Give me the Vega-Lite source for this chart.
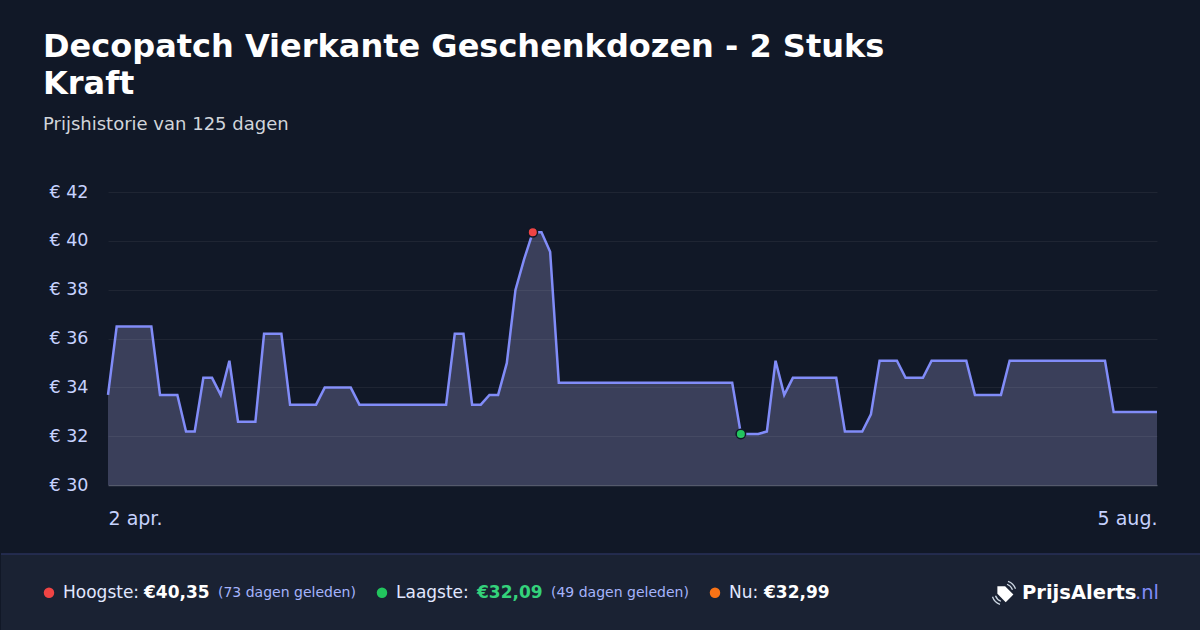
{
  "$schema": "https://vega.github.io/schema/vega-lite/v6.json",
  "background": "#111827",
  "padding": {"top": 31, "left": 0, "right": 0, "bottom": 0},
  "config": {
    "font": "DejaVu Sans",
    "view": {"stroke": null}
  },
  "title": {
    "text": ["Decopatch Vierkante Geschenkdozen - 2 Stuks", "Kraft"],
    "subtitle": "Prijshistorie van 125 dagen",
    "anchor": "start",
    "frame": "group",
    "dx": 42,
    "fontSize": 32,
    "fontWeight": "bold",
    "lineHeight": 37,
    "color": "#ffffff",
    "subtitleFontSize": 18,
    "subtitleColor": "#d1d5db",
    "subtitlePadding": 15,
    "offset": 48
  },
  "spacing": 362,
  "bounds": "flush",
  "datasets": {
    "prijzen": [
      {"i": 0, "prijs": 33.69}, {"i": 1, "prijs": 36.49}, {"i": 2, "prijs": 36.49}, {"i": 3, "prijs": 36.49},
      {"i": 4, "prijs": 36.49}, {"i": 5, "prijs": 36.49}, {"i": 6, "prijs": 33.69}, {"i": 7, "prijs": 33.69},
      {"i": 8, "prijs": 33.69}, {"i": 9, "prijs": 32.19}, {"i": 10, "prijs": 32.19}, {"i": 11, "prijs": 34.39},
      {"i": 12, "prijs": 34.39}, {"i": 13, "prijs": 33.69}, {"i": 14, "prijs": 35.09}, {"i": 15, "prijs": 32.59},
      {"i": 16, "prijs": 32.59}, {"i": 17, "prijs": 32.59}, {"i": 18, "prijs": 36.19}, {"i": 19, "prijs": 36.19},
      {"i": 20, "prijs": 36.19}, {"i": 21, "prijs": 33.29}, {"i": 22, "prijs": 33.29}, {"i": 23, "prijs": 33.29},
      {"i": 24, "prijs": 33.29}, {"i": 25, "prijs": 33.99}, {"i": 26, "prijs": 33.99}, {"i": 27, "prijs": 33.99},
      {"i": 28, "prijs": 33.99}, {"i": 29, "prijs": 33.29}, {"i": 30, "prijs": 33.29}, {"i": 31, "prijs": 33.29},
      {"i": 32, "prijs": 33.29}, {"i": 33, "prijs": 33.29}, {"i": 34, "prijs": 33.29}, {"i": 35, "prijs": 33.29},
      {"i": 36, "prijs": 33.29}, {"i": 37, "prijs": 33.29}, {"i": 38, "prijs": 33.29}, {"i": 39, "prijs": 33.29},
      {"i": 40, "prijs": 36.19}, {"i": 41, "prijs": 36.19}, {"i": 42, "prijs": 33.29}, {"i": 43, "prijs": 33.29},
      {"i": 44, "prijs": 33.69}, {"i": 45, "prijs": 33.69}, {"i": 46, "prijs": 34.99}, {"i": 47, "prijs": 37.99},
      {"i": 48, "prijs": 39.25}, {"i": 49, "prijs": 40.35}, {"i": 50, "prijs": 40.35}, {"i": 51, "prijs": 39.55},
      {"i": 52, "prijs": 34.19}, {"i": 53, "prijs": 34.19}, {"i": 54, "prijs": 34.19}, {"i": 55, "prijs": 34.19},
      {"i": 56, "prijs": 34.19}, {"i": 57, "prijs": 34.19}, {"i": 58, "prijs": 34.19}, {"i": 59, "prijs": 34.19},
      {"i": 60, "prijs": 34.19}, {"i": 61, "prijs": 34.19}, {"i": 62, "prijs": 34.19}, {"i": 63, "prijs": 34.19},
      {"i": 64, "prijs": 34.19}, {"i": 65, "prijs": 34.19}, {"i": 66, "prijs": 34.19}, {"i": 67, "prijs": 34.19},
      {"i": 68, "prijs": 34.19}, {"i": 69, "prijs": 34.19}, {"i": 70, "prijs": 34.19}, {"i": 71, "prijs": 34.19},
      {"i": 72, "prijs": 34.19}, {"i": 73, "prijs": 32.09}, {"i": 74, "prijs": 32.09}, {"i": 75, "prijs": 32.09},
      {"i": 76, "prijs": 32.19}, {"i": 77, "prijs": 35.09}, {"i": 78, "prijs": 33.69}, {"i": 79, "prijs": 34.39},
      {"i": 80, "prijs": 34.39}, {"i": 81, "prijs": 34.39}, {"i": 82, "prijs": 34.39}, {"i": 83, "prijs": 34.39},
      {"i": 84, "prijs": 34.39}, {"i": 85, "prijs": 32.19}, {"i": 86, "prijs": 32.19}, {"i": 87, "prijs": 32.19},
      {"i": 88, "prijs": 32.89}, {"i": 89, "prijs": 35.09}, {"i": 90, "prijs": 35.09}, {"i": 91, "prijs": 35.09},
      {"i": 92, "prijs": 34.39}, {"i": 93, "prijs": 34.39}, {"i": 94, "prijs": 34.39}, {"i": 95, "prijs": 35.09},
      {"i": 96, "prijs": 35.09}, {"i": 97, "prijs": 35.09}, {"i": 98, "prijs": 35.09}, {"i": 99, "prijs": 35.09},
      {"i": 100, "prijs": 33.69}, {"i": 101, "prijs": 33.69}, {"i": 102, "prijs": 33.69}, {"i": 103, "prijs": 33.69},
      {"i": 104, "prijs": 35.09}, {"i": 105, "prijs": 35.09}, {"i": 106, "prijs": 35.09}, {"i": 107, "prijs": 35.09},
      {"i": 108, "prijs": 35.09}, {"i": 109, "prijs": 35.09}, {"i": 110, "prijs": 35.09}, {"i": 111, "prijs": 35.09},
      {"i": 112, "prijs": 35.09}, {"i": 113, "prijs": 35.09}, {"i": 114, "prijs": 35.09}, {"i": 115, "prijs": 35.09},
      {"i": 116, "prijs": 32.99}, {"i": 117, "prijs": 32.99}, {"i": 118, "prijs": 32.99}, {"i": 119, "prijs": 32.99},
      {"i": 120, "prijs": 32.99}, {"i": 121, "prijs": 32.99}
    ],
    "uitschieters": [
      {"i": 49, "prijs": 40.35, "soort": "Hoogste"},
      {"i": 73, "prijs": 32.09, "soort": "Laagste"}
    ],
    "samenvatting": [
      {"soort": "Hoogste", "label": "Hoogste:", "prijs": "€40,35", "noot": "(73 dagen geleden)"},
      {"soort": "Laagste", "label": "Laagste:", "prijs": "€32,09", "noot": "(49 dagen geleden)"},
      {"soort": "Nu", "label": "Nu:", "prijs": "€32,99", "noot": ""}
    ],
    "merk": [
      {"soort": "Merk", "naam": "PrijsAlerts", "tld": ".nl"}
    ]
  },
  "vconcat": [
    {
      "spacing": 0,
      "bounds": "flush",
      "hconcat": [
        {
          "width": 107,
          "height": 293,
          "data": {"values": [{}]},
          "mark": {"type": "text"},
          "encoding": {"text": {"value": ""}}
        },
        {
          "width": 1049,
          "height": 293,
          "layer": [
            {
              "data": {"name": "prijzen"},
              "mark": {"type": "area", "color": "#3a3f5a", "interpolate": "linear"},
              "encoding": {
                "x": {
                  "field": "i",
                  "type": "quantitative",
                  "scale": {"domain": [0, 121], "nice": false},
                  "axis": {
                    "values": [0, 121],
                    "labelExpr": "datum.value == 0 ? '2 apr.' : '5 aug.'",
                    "labelFlush": true,
                    "labelFontSize": 19,
                    "labelColor": "#c7d2fe",
                    "labelPadding": 24,
                    "domainColor": "#4b5063",
                    "domainWidth": 1.5,
                    "ticks": false,
                    "grid": false,
                    "title": null
                  }
                },
                "y": {
                  "field": "prijs",
                  "type": "quantitative",
                  "scale": {"domain": [30, 42], "zero": false, "nice": false},
                  "axis": {
                    "values": [30, 32, 34, 36, 38, 40, 42],
                    "labelExpr": "'€ ' + datum.value",
                    "labelFontSize": 17.5,
                    "labelColor": "#c7d2fe",
                    "labelPadding": 20,
                    "domain": false,
                    "ticks": false,
                    "grid": true,
                    "gridColor": "#ffffff",
                    "gridOpacity": 0.06,
                    "zindex": 1,
                    "title": null
                  }
                },
                "y2": {"datum": 30}
              }
            },
            {
              "data": {"name": "prijzen"},
              "mark": {"type": "line", "color": "#818cf8", "strokeWidth": 2.5, "interpolate": "linear"},
              "encoding": {
                "x": {"field": "i", "type": "quantitative"},
                "y": {"field": "prijs", "type": "quantitative"}
              }
            },
            {
              "data": {"name": "uitschieters"},
              "mark": {"type": "point", "filled": true, "size": 90, "stroke": "#111827", "strokeWidth": 1.5, "opacity": 1},
              "encoding": {
                "x": {"field": "i", "type": "quantitative"},
                "y": {"field": "prijs", "type": "quantitative"},
                "fill": {
                  "field": "soort",
                  "type": "nominal",
                  "scale": {"domain": ["Hoogste", "Laagste"], "range": ["#ef4444", "#22c55e"]},
                  "legend": null
                }
              }
            }
          ]
        }
      ]
    },
    {
      "width": 1200,
      "height": 76,
      "view": {"fill": "#1a2233"},
      "encoding": {
        "x": {
          "field": "soort",
          "type": "nominal",
          "sort": null,
          "scale": {"type": "point", "domain": ["Hoogste", "Laagste", "Nu", "Merk"], "range": [48, 1047], "padding": 0},
          "axis": null
        },
        "y": {"datum": 0.49, "type": "quantitative", "scale": {"domain": [0, 1]}, "axis": null}
      },
      "layer": [
        {
          "data": {"values": [{"soort": "Hoogste"}]},
          "mark": {"type": "rule", "color": "#28305a", "strokeWidth": 1.5},
          "encoding": {
            "x": null,
            "y": {"datum": 1, "type": "quantitative"}
          }
        },
        {
          "data": {"name": "samenvatting"},
          "mark": {"type": "point", "filled": true, "size": 110, "opacity": 1},
          "encoding": {
            "color": {
              "field": "soort",
              "type": "nominal",
              "scale": {"domain": ["Hoogste", "Laagste", "Nu"], "range": ["#ef4444", "#22c55e", "#f97316"]},
              "legend": null
            }
          }
        },
        {
          "data": {"name": "samenvatting"},
          "mark": {"type": "text", "align": "left", "baseline": "middle", "dx": 14, "fontSize": 17, "color": "#e0e7ff"},
          "encoding": {
            "text": {"field": "label"}
          }
        },
        {
          "data": {"name": "samenvatting"},
          "transform": [{"filter": "datum.soort != 'Nu'"}],
          "mark": {"type": "text", "align": "left", "baseline": "middle", "dx": 95, "fontSize": 17, "fontWeight": "bold"},
          "encoding": {
            "text": {"field": "prijs"},
            "color": {"condition": {"test": "datum.soort == 'Laagste'", "value": "#34d27b"}, "value": "#ffffff"}
          }
        },
        {
          "data": {"name": "samenvatting"},
          "transform": [{"filter": "datum.soort == 'Nu'"}],
          "mark": {"type": "text", "align": "left", "baseline": "middle", "dx": 49, "fontSize": 17, "fontWeight": "bold", "color": "#ffffff"},
          "encoding": {
            "text": {"field": "prijs"}
          }
        },
        {
          "data": {"name": "samenvatting"},
          "transform": [{"filter": "datum.noot != ''"}],
          "mark": {"type": "text", "align": "left", "baseline": "middle", "dx": 169, "fontSize": 14, "color": "#a5b4fc"},
          "encoding": {
            "text": {"field": "noot"}
          }
        },
        {
          "data": {"name": "merk"},
          "mark": {"type": "text", "align": "left", "baseline": "middle", "dx": -26, "fontSize": 19.5, "fontWeight": "bold", "color": "#ffffff"},
          "encoding": {
            "text": {"field": "naam"}
          }
        },
        {
          "data": {"name": "merk"},
          "mark": {"type": "text", "align": "left", "baseline": "middle", "dx": 87, "fontSize": 19.5, "color": "#818cf8"},
          "encoding": {
            "text": {"field": "tld"}
          }
        },
        {
          "data": {"name": "merk"},
          "mark": {
            "type": "point",
            "shape": "M-5.06,-0.66 L-4.29,-0.66 L-3.46,0.17 L-4.23,0.94 L-5.06,0.11 Z",
            "filled": true,
            "color": "#ffffff",
            "size": 400,
            "opacity": 1
          }
        },
        {
          "data": {"name": "merk"},
          "mark": {
            "type": "point",
            "shape": "M-4,-1.15 A1.2,1.2 0 0 1 -3.25,-0.4 M-4.1,-0.85 A0.9,0.9 0 0 1 -3.55,-0.3 M-5.55,0.4 A1.2,1.2 0 0 0 -4.8,1.15 M-5.25,0.3 A0.9,0.9 0 0 0 -4.7,0.85",
            "filled": false,
            "color": "#cbd5e1",
            "strokeWidth": 1.3,
            "size": 400,
            "opacity": 1
          }
        }
      ]
    }
  ]
}
